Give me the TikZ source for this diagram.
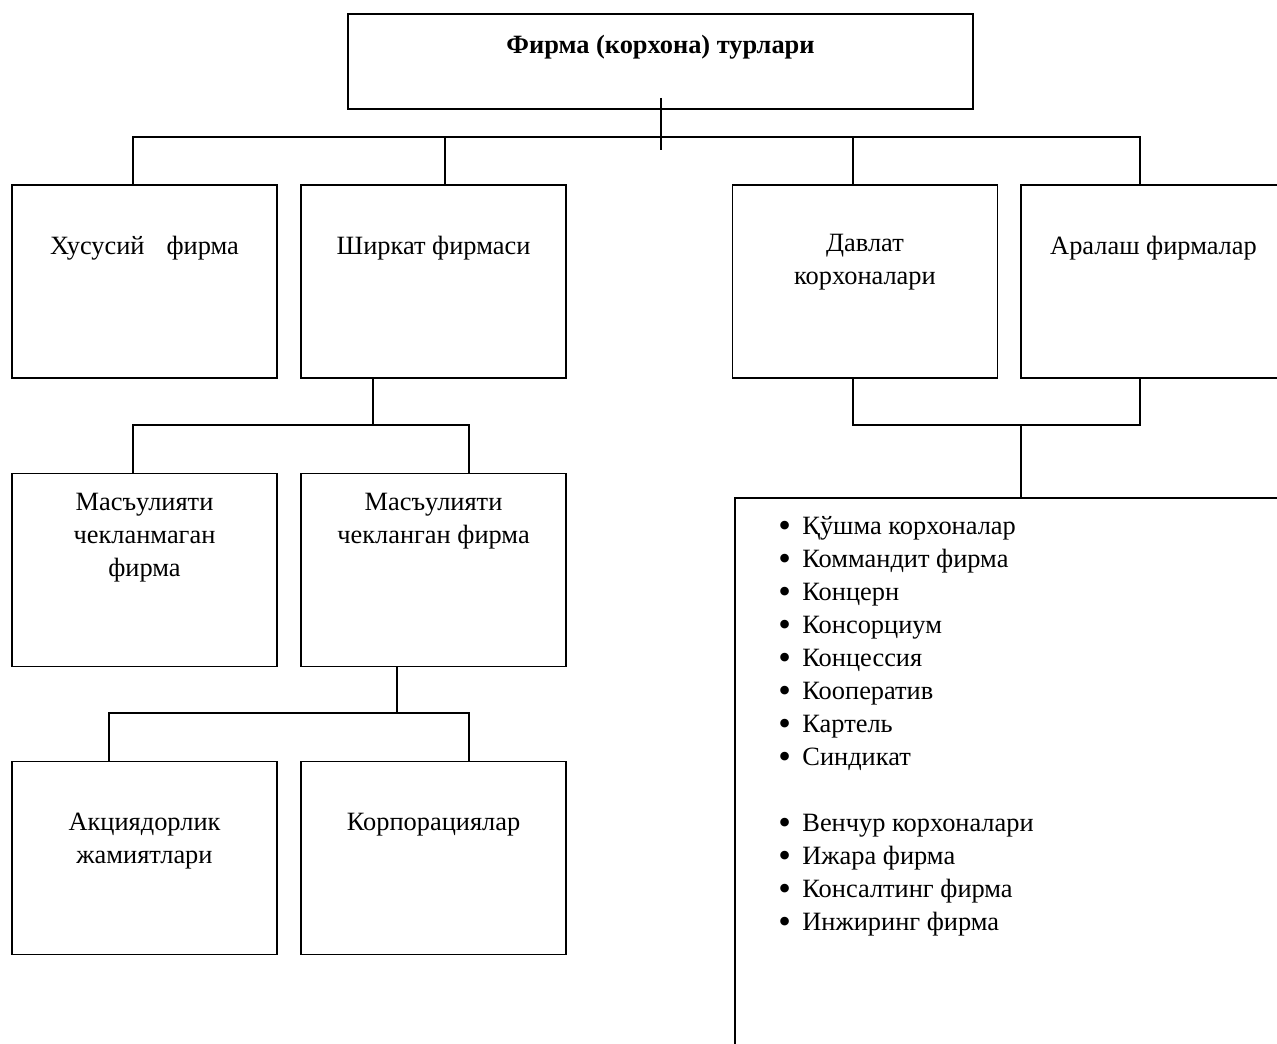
\documentclass[tikz,border=0pt]{standalone}
\usepackage{fontspec}
\setmainfont{Liberation Serif}
\newcommand\fsz{\fontsize{13.2}{16.5}\selectfont}
\newcommand\bul{\makebox[12pt][l]{\smash{\raisebox{-1.6pt}{\fontsize{18}{16.5}\selectfont •}}}}
\begin{document}
\begin{tikzpicture}[x=0.5pt,y=-0.5pt,
  box/.style={draw=black, line width=0.8pt, rectangle, inner sep=0pt, minimum width=132.5pt, minimum height=96.5pt},
  lbl/.style={anchor=north, inner sep=0pt, align=center, font=\fsz},
  conn/.style={draw=black, line width=0.8pt}]
\useasboundingbox (0,0) rectangle (1277,1043);
\clip (0,0) rectangle (1277,1043);
\fill[white] (0,0) rectangle (1277,1043);

% title
\node[box, minimum width=312.5pt, minimum height=47.5pt] (top) at (660.5,61.5) {};
\node[lbl, font=\fsz\bfseries] (topT) at (660.5,30) {\strut Фирма (корхона) турлари};

% row 1
\node[box] (b1) at (144.5,281.5) {};
\node[lbl] (b1T) at (144.5,231) {\strut Хусусий\hspace{11pt}фирма};
\node[box] (b2) at (433.5,281.5) {};
\node[lbl] (b2T) at (433.5,231) {\strut Ширкат фирмаси};
\node[box] (b3) at (865,281.5) {};
\node[lbl] (b3T) at (865,228) {\strut Давлат\\корхоналари};
\node[box] (b4) at (1153.5,281.5) {};
\node[lbl] (b4T) at (1153.5,231) {\strut Аралаш фирмалар};

% row 2
\node[box] (b5) at (144.5,570) {};
\node[lbl] (b5T) at (144.5,487) {\strut Масъулияти\\чекланмаган\\фирма};
\node[box] (b6) at (433.5,570) {};
\node[lbl] (b6T) at (433.5,487) {\strut Масъулияти\\чекланган фирма};

% row 3
\node[box] (b7) at (144.5,858) {};
\node[lbl] (b7T) at (144.5,807) {\strut Акциядорлик\\жамиятлари};
\node[box] (b8) at (433.5,858) {};
\node[lbl] (b8T) at (433.5,807) {\strut Корпорациялар};

% list box
\node[draw=black, line width=0.8pt, rectangle, inner sep=0pt, anchor=north west,
      minimum width=300pt, minimum height=320pt] (list) at (734,497) {};
\node[anchor=north west, inner sep=0pt, align=left, font=\fsz] (listT) at (778,511) {%
\strut\bul Қўшма корхоналар\\
\bul Коммандит фирма\\
\bul Концерн\\
\bul Консорциум\\
\bul Концессия\\
\bul Кооператив\\
\bul Картель\\
\bul Синдикат\\
\mbox{}\\
\bul Венчур корхоналари\\
\bul Ижара фирма\\
\bul Консалтинг фирма\\
\bul Инжиринг фирма};

% connectors
\coordinate (j1) at (661,98);
\coordinate (j2) at (661,150);
\draw[conn] (j1) -- (j2);
\coordinate (busL) at (133,137);
\coordinate (busR) at (1140,137);
\coordinate (d2) at (445,137);
\coordinate (d3) at (853,137);
\draw[conn] (busL |- b1.north) -- (busL) -- (busR) -- (busR |- b4.north);
\draw[conn] (d2) -- (d2 |- b2.north);
\draw[conn] (d3) -- (d3 |- b3.north);

\coordinate (m1) at (373,425);
\coordinate (m1L) at (133,425);
\coordinate (m1R) at (469,425);
\draw[conn] (m1 |- b2.south) -- (m1);
\draw[conn] (m1L |- b5.north) -- (m1L) -- (m1R) -- (m1R |- b6.north);

\coordinate (n1) at (397,713);
\coordinate (n1L) at (109,713);
\coordinate (n1R) at (469,713);
\draw[conn] (n1 |- b6.south) -- (n1);
\draw[conn] (n1L |- b7.north) -- (n1L) -- (n1R) -- (n1R |- b8.north);

\coordinate (r1L) at (853,425);
\coordinate (r1R) at (1140,425);
\coordinate (r1) at (1021,425);
\draw[conn] (r1L |- b3.south) -- (r1L) -- (r1R) -- (r1R |- b4.south);
\draw[conn] (r1) -- (r1 |- list.north);
\end{tikzpicture}
\end{document}
